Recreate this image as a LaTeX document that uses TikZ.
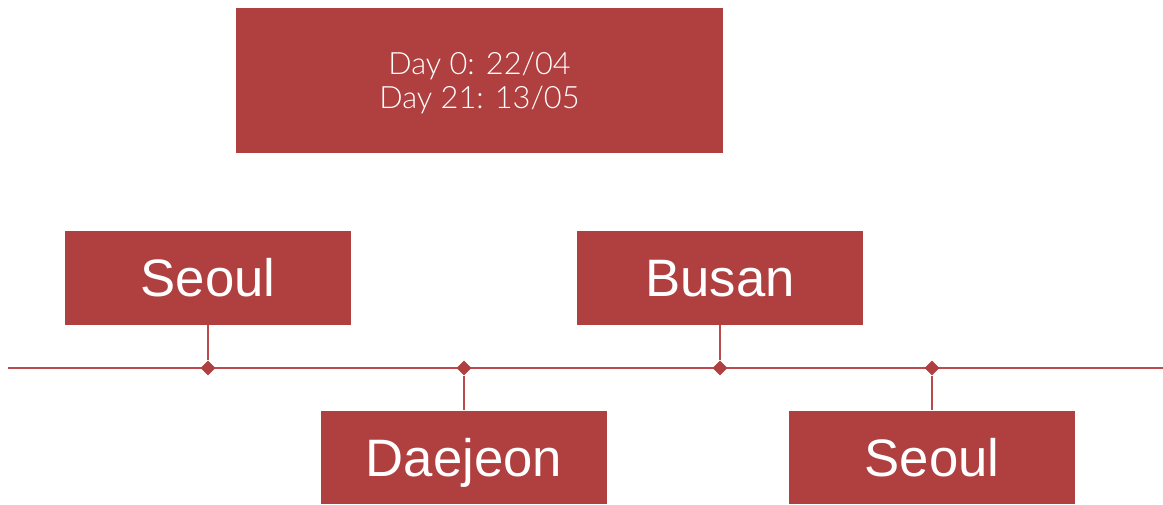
\documentclass[tikz,border=0pt]{standalone}
\usepackage{fontspec}
\setmainfont{Liberation Sans}
\newfontfamily\datefont{Lato}[UprightFont=* Light]
\usetikzlibrary{shapes.geometric}
\definecolor{brick}{HTML}{B03F40}
\definecolor{brickline}{HTML}{BA4A4B}

\begin{document}
\begin{tikzpicture}[x=0.02cm,y=-0.02cm,
city/.style={fill=brick,text=white,minimum width=5.72cm,minimum height=1.88cm,inner sep=0pt,text height=21.5pt,text depth=0pt,font=\fontsize{30}{34}\selectfont},
datebox/.style={fill=brick,text=white,minimum width=9.74cm,minimum height=2.9cm,align=center,text depth=0pt,font=\datefont\fontsize{17.5}{19.5}\selectfont},
stop/.style={diamond,fill=brick,inner sep=0pt,minimum size=0.3cm},
link/.style={draw=brickline,line width=1.1pt}]
\useasboundingbox (0,0) rectangle (1163,504);

\node (dates) [datebox] at (479.5,80.5) {Day 0: 22/04\\Day 21: 13/05};

% timeline
\coordinate (tstart) at (8,368);
\coordinate (tend) at (1163,368);
\draw [brickline,line width=1.7pt] (tstart) -- (tend);

\node (seoulA) [city] at (208,278) {Seoul};
\node (daejeon) [city] at (464,457.5) {Daejeon};
\node (busan) [city] at (720,278) {Busan};
\node (seoulB) [city] at (932,457.5) {Seoul};

\node (mA) [stop] at (208,368) {};
\node (mB) [stop] at (464,368) {};
\node (mC) [stop] at (720,368) {};
\node (mD) [stop] at (932,368) {};

\draw [link] (seoulA.south) -- (mA);
\draw [link] (mB) -- (daejeon.north);
\draw [link] (busan.south) -- (mC);
\draw [link] (mD) -- (seoulB.north);
\end{tikzpicture}
\end{document}
